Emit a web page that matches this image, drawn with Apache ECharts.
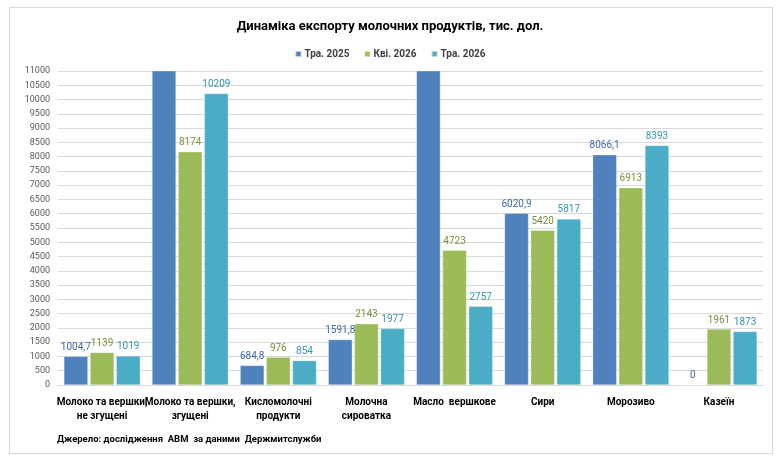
<!DOCTYPE html>
<html>
<head>
<meta charset="utf-8">
<script src="https://cdn.jsdelivr.net/npm/echarts@6/dist/echarts.min.js"></script>
<style>
  html, body { margin: 0; padding: 0; background: #fff; }
  #frame { position: absolute; left: 9px; top: 7px; width: 762px; height: 445px; border: 1px solid #d9d9d9; }
  #chart { width: 780px; height: 460px; }
</style>
</head>
<body>
<div id="frame"></div>
<div id="chart"></div>
<script>
  // categories and series (тис. дол.)
  var categories = [
    'Молоко та вершки,\nне згущені',
    'Молоко та вершки,\nзгущені',
    'Кисломолочні\nпродукти',
    'Молочна\nсироватка',
    'Масло  вершкове',
    'Сири',
    'Морозиво',
    'Казеїн'
  ]
  // bars above 11000 are cut off in the picture, their labels are not shown
  var may2025 = [1004.7, 11600, 684.8, 1591.8, 12500, 6020.9, 8066.1, 0]
  var apr2026 = [1139, 8174, 976, 2143, 4723, 5420, 6913, 1961]
  var may2026 = [1019, 10209, 854, 1977, 2757, 5817, 8393, 1873]
  var seriesNames = ['Тра. 2025', 'Кві. 2026', 'Тра. 2026']
  var colors = ['#4f81bd', '#9bbb59', '#4bacc6']
  var labelColors = ['#3d6aa3', '#7a8f3c', '#3394b0']
  var yMax = 11000
  var font = 'Roboto, sans-serif'

  var myChart = echarts.init(document.getElementById('chart'))

  function makeSeries(name, data, i) {
    return {
      name: name,
      type: 'bar',
      barWidth: 24,
      barGap: '9%',
      clip: true,
      data: data.map(function (v) {
        return v > yMax ? { value: v, label: { show: false } } : v
      }),
      itemStyle: { color: colors[i], borderColor: 'rgba(255,255,255,0.6)', borderWidth: 0.5 },
      label: {
        show: true,
        position: 'top',
        distance: 4,
        fontSize: 10,
        fontFamily: font,
        color: labelColors[i],
        formatter: function (p) { return String(p.value).replace('.', ',') }
      }
    }
  }

  var option = {
    animation: false,
    color: colors,
    title: {
      text: 'Динаміка експорту молочних продуктів, тис. дол.',
      left: 'center',
      top: 15,
      textStyle: { fontSize: 13, fontWeight: 'bold', color: '#000', fontFamily: font }
    },
    legend: {
      top: 44,
      left: 'center',
      itemWidth: 6,
      itemHeight: 6,
      itemGap: 14,
      icon: 'rect',
      textStyle: { fontSize: 10, fontWeight: 'bold', color: '#404040', fontFamily: font, padding: [0, 0, 0, -2] },
      data: seriesNames
    },
    grid: {
      left: 58,
      right: 17,
      top: 71,
      bottom: 75
    },
    xAxis: {
      type: 'category',
      data: categories,
      axisTick: { show: false },
      axisLine: { lineStyle: { color: '#d9d9d9' } },
      axisLabel: {
        interval: 0,
        margin: 10,
        fontSize: 10,
        fontWeight: 'bold',
        color: '#000',
        lineHeight: 14,
        fontFamily: font
      }
    },
    yAxis: {
      type: 'value',
      min: 0,
      max: yMax,
      interval: 500,
      axisLine: { show: false },
      axisTick: { show: false },
      splitLine: { lineStyle: { color: '#d9d9d9' } },
      axisLabel: {
        fontSize: 9,
        color: '#595959',
        margin: 8,
        fontFamily: font,
        formatter: function (v) { return String(v) }
      }
    },
    graphic: [{
      type: 'text',
      left: 57,
      top: 435,
      style: {
        text: 'Джерело: дослідження  АВМ  за даними  Держмитслужби',
        fontSize: 9.5,
        fontWeight: 'bold',
        fill: '#000',
        fontFamily: font
      }
    }],
    series: [
      makeSeries(seriesNames[0], may2025, 0),
      makeSeries(seriesNames[1], apr2026, 1),
      makeSeries(seriesNames[2], may2026, 2)
    ]
  }
  myChart.setOption(option)
</script>
</body>
</html>
